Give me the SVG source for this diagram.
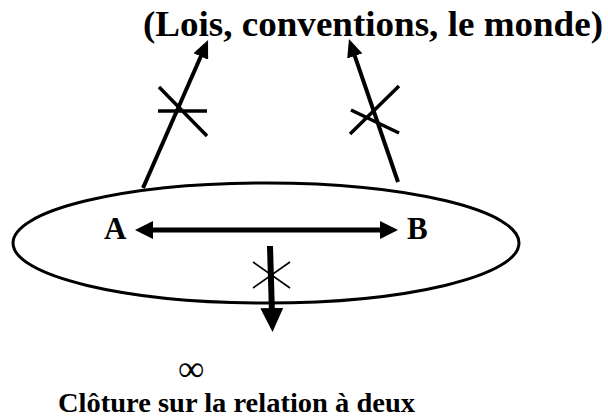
<svg xmlns="http://www.w3.org/2000/svg" width="608" height="418" viewBox="0 0 608 418">
<style>
.t{font-family:"Liberation Serif","Times New Roman",serif;font-weight:bold;fill:#000}
.ln{stroke:#000;fill:none;stroke-linecap:butt}
</style>
<defs>
<marker id="ah" markerUnits="userSpaceOnUse" markerWidth="18" markerHeight="18" viewBox="0 0 18 18" refX="4" refY="9" orient="auto-start-reverse">
<path d="M0,0 L18,9 L0,18 z" fill="#000"/>
</marker>
<marker id="ahu" markerUnits="userSpaceOnUse" markerWidth="18" markerHeight="16" viewBox="0 0 18 16" refX="4" refY="8" orient="auto">
<path d="M0,0 L18,8 L0,16 z" fill="#000"/>
</marker>
<marker id="ahd" markerUnits="userSpaceOnUse" markerWidth="24" markerHeight="23" viewBox="0 0 24 23" refX="6" refY="11.5" orient="auto">
<path d="M0,0 L24,11.5 L0,23 z" fill="#000"/>
</marker>
</defs>
<g id="title"><text class="t" x="143" y="36" font-size="36" textLength="460" lengthAdjust="spacingAndGlyphs">(Lois, conventions, le monde)</text></g>
<g id="ellipse"><ellipse cx="266" cy="243" rx="253" ry="60" class="ln" stroke-width="3"/></g>
<g id="nodeA"><text class="t" x="104" y="239" font-size="31">A</text></g>
<g id="nodeB"><text class="t" x="407" y="239" font-size="31">B</text></g>
<g id="connectors">
<line class="ln" x1="143" y1="188" x2="202.4" y2="52.8" stroke-width="4" marker-end="url(#ahu)"/>
<line class="ln" x1="398" y1="182" x2="353.5" y2="52.2" stroke-width="4" marker-end="url(#ahu)"/>
<line class="ln" x1="149" y1="230" x2="384" y2="230" stroke-width="5" marker-start="url(#ah)" marker-end="url(#ah)"/>
<line class="ln" x1="270" y1="246" x2="272" y2="314" stroke-width="6" marker-end="url(#ahd)"/>
</g>
<g id="crosses">
<line class="ln" x1="158" y1="111" x2="207" y2="111" stroke-width="3.5"/>
<line class="ln" x1="159" y1="87" x2="207" y2="136" stroke-width="3.5"/>
<line class="ln" x1="350" y1="134" x2="399" y2="86" stroke-width="3.5"/>
<line class="ln" x1="351" y1="110" x2="399" y2="133" stroke-width="3.5"/>
<line class="ln" x1="253" y1="262" x2="290" y2="288" stroke-width="1.6"/>
<line class="ln" x1="253" y1="288" x2="290" y2="262" stroke-width="1.6"/>
</g>
<g id="infinity"><text x="178" y="381" font-family="Liberation Serif, Times New Roman, serif" font-size="37">∞</text></g>
<g id="caption"><text class="t" x="58" y="412" font-size="28" textLength="357" lengthAdjust="spacingAndGlyphs">Clôture sur la relation à deux</text></g>
</svg>
